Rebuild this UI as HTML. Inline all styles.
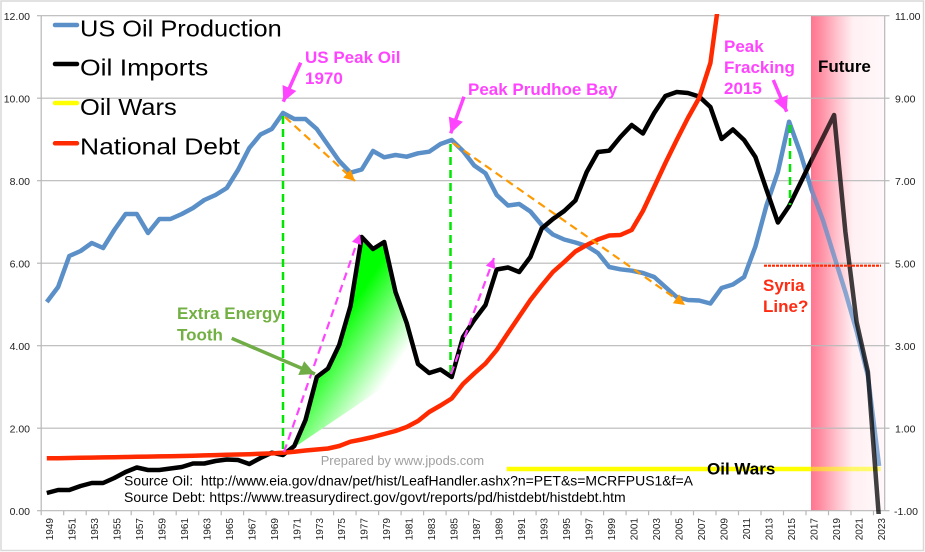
<!DOCTYPE html>
<html><head><meta charset="utf-8"><style>
html,body{margin:0;padding:0;background:#fff;}
svg{display:block;font-family:"Liberation Sans",Arial,sans-serif;}
.ax{font-size:10.5px;fill:#222;}
.yr{font-size:10px;fill:#222;}
.mg{font-size:17px;font-weight:bold;fill:#ff44ff;}
.bd{font-size:17px;font-weight:bold;}
.lg{font-size:23px;fill:#000;}
</style></head><body>
<svg width="925" height="552" viewBox="0 0 925 552" xmlns="http://www.w3.org/2000/svg">
<defs>
<linearGradient id="pk" x1="811" y1="0" x2="884.7" y2="0" gradientUnits="userSpaceOnUse">
<stop offset="0" stop-color="#ff7590"/><stop offset="0.12" stop-color="#ff8ba1"/><stop offset="0.35" stop-color="#ffc2cd"/><stop offset="0.57" stop-color="#fff0f3"/><stop offset="1" stop-color="#fff8fa"/>
</linearGradient>
<linearGradient id="gf" x1="330" y1="280" x2="420" y2="340" gradientUnits="userSpaceOnUse">
<stop offset="0" stop-color="#00ff00"/><stop offset="0.3" stop-color="#00ff00"/><stop offset="0.95" stop-color="#ffffff"/>
</linearGradient>
<clipPath id="past"><rect x="41" y="14" width="770" height="500"/></clipPath>
<clipPath id="fut"><rect x="811" y="14" width="74" height="500"/></clipPath>
<marker id="mOr" viewBox="0 0 10 10" refX="10" refY="5" markerWidth="11" markerHeight="11" markerUnits="userSpaceOnUse" orient="auto"><path d="M0,0L10,5L0,10z" fill="#ff9900"/></marker>
<marker id="mMs" viewBox="0 0 10 10" refX="10" refY="5" markerWidth="11" markerHeight="10" markerUnits="userSpaceOnUse" orient="auto"><path d="M0,0L10,5L0,10z" fill="#ff44ff"/></marker>
<marker id="mMb" viewBox="0 0 10 10" refX="10" refY="5" markerWidth="16" markerHeight="15" markerUnits="userSpaceOnUse" orient="auto"><path d="M0,0L10,5L0,10z" fill="#ff44ff"/></marker>
<marker id="mG" viewBox="0 0 10 10" refX="10" refY="5" markerWidth="17" markerHeight="15" markerUnits="userSpaceOnUse" orient="auto"><path d="M0,0L10,5L0,10z" fill="#70ad47"/></marker>
</defs>

<rect x="0" y="0" width="925" height="552" fill="#fff"/>
<rect x="1" y="1" width="922.5" height="549.5" fill="none" stroke="#d9d9d9" stroke-width="1.5"/>

<!-- future zone -->
<rect x="811" y="15.7" width="73.7" height="495" fill="url(#pk)"/>

<!-- gridlines -->
<g stroke="#b8b8b8" stroke-width="1.2">
<line x1="41.2" y1="15.7" x2="884.7" y2="15.7"/>
<line x1="41.2" y1="98.2" x2="884.7" y2="98.2"/>
<line x1="41.2" y1="180.7" x2="884.7" y2="180.7"/>
<line x1="41.2" y1="263.2" x2="884.7" y2="263.2"/>
<line x1="41.2" y1="345.7" x2="884.7" y2="345.7"/>
<line x1="41.2" y1="428.2" x2="884.7" y2="428.2"/>
<line x1="37" y1="15.7" x2="41.2" y2="15.7"/><line x1="37" y1="98.2" x2="41.2" y2="98.2"/><line x1="37" y1="180.7" x2="41.2" y2="180.7"/><line x1="37" y1="263.2" x2="41.2" y2="263.2"/><line x1="37" y1="345.7" x2="41.2" y2="345.7"/><line x1="37" y1="428.2" x2="41.2" y2="428.2"/><line x1="37" y1="510.7" x2="41.2" y2="510.7"/>
<line x1="884.7" y1="15.7" x2="889.5" y2="15.7"/><line x1="884.7" y1="98.2" x2="889.5" y2="98.2"/><line x1="884.7" y1="180.7" x2="889.5" y2="180.7"/><line x1="884.7" y1="263.2" x2="889.5" y2="263.2"/><line x1="884.7" y1="345.7" x2="889.5" y2="345.7"/><line x1="884.7" y1="428.2" x2="889.5" y2="428.2"/><line x1="884.7" y1="510.7" x2="889.5" y2="510.7"/>
<line x1="41.2" y1="15.7" x2="41.2" y2="510.7"/>
<line x1="884.7" y1="15.7" x2="884.7" y2="510.7"/>
<line x1="41.2" y1="510.7" x2="884.7" y2="510.7"/>
<path d="M41.2,510.7v4.5M63.7,510.7v4.5M86.2,510.7v4.5M108.7,510.7v4.5M131.2,510.7v4.5M153.7,510.7v4.5M176.2,510.7v4.5M198.7,510.7v4.5M221.2,510.7v4.5M243.6,510.7v4.5M266.1,510.7v4.5M288.6,510.7v4.5M311.1,510.7v4.5M333.6,510.7v4.5M356.1,510.7v4.5M378.6,510.7v4.5M401.1,510.7v4.5M423.6,510.7v4.5M446.1,510.7v4.5M468.6,510.7v4.5M491.1,510.7v4.5M513.6,510.7v4.5M536.1,510.7v4.5M558.6,510.7v4.5M581.1,510.7v4.5M603.6,510.7v4.5M626.1,510.7v4.5M648.6,510.7v4.5M671.1,510.7v4.5M693.5,510.7v4.5M716,510.7v4.5M738.5,510.7v4.5M761,510.7v4.5M783.5,510.7v4.5M806,510.7v4.5M828.5,510.7v4.5M851,510.7v4.5M873.5,510.7v4.5" fill="none"/>
</g>

<!-- left axis labels -->
<g class="ax" text-anchor="end">
<text x="30" y="20">12.00</text><text x="30" y="102.5">10.00</text><text x="30" y="185">8.00</text><text x="30" y="267.5">6.00</text><text x="30" y="350">4.00</text><text x="30" y="432.5">2.00</text><text x="30" y="515">0.00</text>
</g>
<!-- right axis labels -->
<g class="ax">
<text x="895" y="20">11.00</text><text x="895" y="102.5">9.00</text><text x="895" y="185">7.00</text><text x="895" y="267.5">5.00</text><text x="895" y="350">3.00</text><text x="895" y="432.5">1.00</text><text x="894" y="515">-1.00</text>
</g>

<!-- year labels -->
<g class="yr" text-anchor="end">
<text transform="translate(52.8,518) rotate(-90)">1949</text>
<text transform="translate(75.3,518) rotate(-90)">1951</text>
<text transform="translate(97.8,518) rotate(-90)">1953</text>
<text transform="translate(120.3,518) rotate(-90)">1955</text>
<text transform="translate(142.8,518) rotate(-90)">1957</text>
<text transform="translate(165.3,518) rotate(-90)">1959</text>
<text transform="translate(187.8,518) rotate(-90)">1961</text>
<text transform="translate(210.3,518) rotate(-90)">1963</text>
<text transform="translate(232.8,518) rotate(-90)">1965</text>
<text transform="translate(255.3,518) rotate(-90)">1967</text>
<text transform="translate(277.8,518) rotate(-90)">1969</text>
<text transform="translate(300.3,518) rotate(-90)">1971</text>
<text transform="translate(322.8,518) rotate(-90)">1973</text>
<text transform="translate(345.2,518) rotate(-90)">1975</text>
<text transform="translate(367.7,518) rotate(-90)">1977</text>
<text transform="translate(390.2,518) rotate(-90)">1979</text>
<text transform="translate(412.7,518) rotate(-90)">1981</text>
<text transform="translate(435.2,518) rotate(-90)">1983</text>
<text transform="translate(457.7,518) rotate(-90)">1985</text>
<text transform="translate(480.2,518) rotate(-90)">1987</text>
<text transform="translate(502.7,518) rotate(-90)">1989</text>
<text transform="translate(525.2,518) rotate(-90)">1991</text>
<text transform="translate(547.7,518) rotate(-90)">1993</text>
<text transform="translate(570.2,518) rotate(-90)">1995</text>
<text transform="translate(592.7,518) rotate(-90)">1997</text>
<text transform="translate(615.2,518) rotate(-90)">1999</text>
<text transform="translate(637.7,518) rotate(-90)">2001</text>
<text transform="translate(660.2,518) rotate(-90)">2003</text>
<text transform="translate(682.6,518) rotate(-90)">2005</text>
<text transform="translate(705.1,518) rotate(-90)">2007</text>
<text transform="translate(727.6,518) rotate(-90)">2009</text>
<text transform="translate(750.1,518) rotate(-90)">2011</text>
<text transform="translate(772.6,518) rotate(-90)">2013</text>
<text transform="translate(795.1,518) rotate(-90)">2015</text>
<text transform="translate(817.6,518) rotate(-90)">2017</text>
<text transform="translate(840.1,518) rotate(-90)">2019</text>
<text transform="translate(862.6,518) rotate(-90)">2021</text>
<text transform="translate(885.1,518) rotate(-90)">2023</text>
</g>

<!-- green tooth fill -->
<polygon points="283,455 294.3,446 305.5,420 316.8,377 328,368.5 339.2,345 350.5,306 361.7,237 373,249 384.2,242 395.5,292 406.7,323 418,364" fill="url(#gf)"/>

<!-- Oil Wars line -->
<line x1="506.7" y1="469" x2="811" y2="469" stroke="#ffff00" stroke-width="4.5"/>
<line x1="811" y1="469" x2="880.7" y2="469" stroke="#ffff00" stroke-width="4.5" opacity="0.55"/>

<!-- US Oil Production (blue) -->
<g fill="none" stroke="#5b8fc8" stroke-width="4.5" stroke-linejoin="round">
<polyline clip-path="url(#past)" points="46.8,302 58.1,287 69.3,256 80.6,251 91.8,243 103.1,248 114.3,230 125.6,214 136.8,214 148,233 159.3,219 170.5,219 181.8,214 193,208 204.3,200 215.5,195 226.8,188 238,170 249.3,148 260.5,134.5 271.8,129 283,113 294.3,119 305.5,119 316.8,129 328,145 339.2,161 350.5,172.7 361.7,169.5 373,151 384.2,157.3 395.5,155 406.7,156.7 418,153.3 429.2,151.7 440.5,144 451.7,140 463,151 474.2,165.5 485.5,173.3 496.7,195 508,205.5 519.2,204 530.4,211.5 541.7,225 552.9,234.5 564.2,239.5 575.4,242.5 586.7,246 597.9,253 609.2,267 620.4,269.3 631.7,270.7 642.9,273 654.2,277 665.4,287 676.7,297 687.9,300 699.1,300.5 710.4,303.5 721.6,288 732.9,284.5 744.1,277 755.4,246.5 766.6,205 777.9,172 789.1,121.7 800.4,153 811.6,190 822.9,220"/>
<polyline clip-path="url(#fut)" opacity="0.72" points="800.4,153 811.6,190 822.9,220 834.1,256 845.4,292 856.6,331 867.9,376 879.1,466"/>
</g>

<!-- Oil Imports (black) -->
<g fill="none" stroke="#000" stroke-width="4.5" stroke-linejoin="round">
<polyline clip-path="url(#past)" points="46.8,493 58.1,490 69.3,490 80.6,486 91.8,483 103.1,483 114.3,478 125.6,472 136.8,467.5 148,470 159.3,470 170.5,468.5 181.8,467 193,463.5 204.3,463.5 215.5,461 226.8,459.5 238,460 249.3,464 260.5,458 271.8,452.7 283,455 294.3,446 305.5,420 316.8,377 328,368.5 339.2,345 350.5,306 361.7,237 373,249 384.2,242 395.5,292 406.7,323 418,364 429.2,373 440.5,369.5 451.7,377 463,337 474.2,320 485.5,305 496.7,269.5 508,267.5 519.2,272 530.4,257 541.7,228.5 552.9,219 564.2,211 575.4,200.5 586.7,172 597.9,152 609.2,150.7 620.4,137 631.7,125 642.9,133.5 654.2,113 665.4,96 676.7,92 687.9,93 699.1,96.5 710.4,107 721.6,139 732.9,129.5 744.1,140 755.4,157 766.6,190 777.9,222.5 789.1,206 800.4,183 811.6,160 822.9,137.5"/>
<polyline clip-path="url(#fut)" opacity="0.75" points="800.4,183 811.6,160 822.9,137.5 834.1,115 845.4,232 856.6,322 867.9,372 879.1,520"/>
</g>

<!-- National Debt (red) -->
<polyline clip-path="url(#past)" fill="none" stroke="#ff2a00" stroke-width="4.5" stroke-linejoin="round" points="46.8,458.3 58.1,458.2 69.3,458 80.6,457.8 91.8,457.6 103.1,457.4 114.3,457.2 125.6,457 136.8,456.8 148,456.6 159.3,456.4 170.5,456.2 181.8,456 193,455.7 204.3,455.4 215.5,455.1 226.8,454.8 238,454.5 249.3,454.2 260.5,453.8 271.8,453.4 283,452.7 294.3,451.7 305.5,450.5 316.8,449.5 328,448.5 339.2,446 350.5,441.7 361.7,439.5 373,437 384.2,434 395.5,431 406.7,427 418,421 429.2,412 440.5,405.5 451.7,398.5 463,384 474.2,373.5 485.5,363.5 496.7,350 508,333 519.2,316.5 530.4,300 541.7,285.5 552.9,272 564.2,262 575.4,251.5 586.7,245 597.9,239.5 609.2,235.5 620.4,235 631.7,230 642.9,211 654.2,187 665.4,163 676.7,140 687.9,118 699.1,98 710.4,63 721.6,-20"/>

<!-- Syria line -->
<line x1="764" y1="265.7" x2="881" y2="265.7" stroke="#ff2a00" stroke-width="2.2" stroke-dasharray="3 1"/>

<!-- green vertical dashed -->
<g stroke="#00e600" stroke-width="2.5" stroke-dasharray="8 5" fill="none">
<line x1="283" y1="116" x2="283" y2="453"/>
<line x1="450.5" y1="144" x2="450.5" y2="375"/>
<line x1="790" y1="125" x2="790" y2="205"/>
</g>

<!-- orange dashed arrows -->
<g stroke="#ff9900" stroke-width="2.2" stroke-dasharray="8 5" fill="none">
<line x1="285" y1="117" x2="355" y2="181" marker-end="url(#mOr)"/>
<line x1="453" y1="143" x2="685" y2="305" marker-end="url(#mOr)"/>
</g>

<!-- magenta dashed arrows -->
<g stroke="#ff44ff" stroke-width="2.2" stroke-dasharray="8 5" fill="none">
<line x1="284" y1="452" x2="360" y2="234" marker-end="url(#mMs)"/>
<line x1="451" y1="374" x2="494" y2="258" marker-end="url(#mMs)"/>
</g>

<!-- magenta solid arrows -->
<g stroke="#ff44ff" stroke-width="3.5" fill="none">
<line x1="300.7" y1="62.7" x2="283.3" y2="101.7" marker-end="url(#mMb)"/>
<line x1="464" y1="96.7" x2="450.7" y2="133.3" marker-end="url(#mMb)"/>
<line x1="773.3" y1="80" x2="786.7" y2="111.7" marker-end="url(#mMb)"/>
</g>

<!-- green arrow -->
<line x1="231.7" y1="338.3" x2="315" y2="374" stroke="#70ad47" stroke-width="3.5" marker-end="url(#mG)"/>

<!-- annotations -->
<text class="mg" x="305" y="63">US Peak Oil</text>
<text class="mg" x="305" y="84">1970</text>
<text class="mg" x="468" y="95">Peak Prudhoe Bay</text>
<text class="mg" x="724" y="52">Peak</text>
<text class="mg" x="724" y="73">Fracking</text>
<text class="mg" x="724" y="94">2015</text>
<text class="bd" x="818" y="72" fill="#000">Future</text>
<text class="bd" x="763" y="291" fill="#ff2b12">Syria</text>
<text class="bd" x="763" y="312" fill="#ff2b12">Line?</text>
<text class="bd" x="707" y="474.5" fill="#000">Oil Wars</text>
<text class="bd" x="177" y="319" fill="#72b043">Extra Energy</text>
<text class="bd" x="177" y="340.5" fill="#72b043">Tooth</text>

<text x="320.7" y="465" font-size="13" fill="#a0a0a0" textLength="163.5" lengthAdjust="spacingAndGlyphs">Prepared by www.jpods.com</text>
<text x="124" y="485.5" font-size="14" fill="#000" textLength="569" lengthAdjust="spacingAndGlyphs" xml:space="preserve">Source Oil:  http://www.eia.gov/dnav/pet/hist/LeafHandler.ashx?n=PET&amp;s=MCRFPUS1&amp;f=A</text>
<text x="124" y="502" font-size="14" fill="#000" textLength="501.7" lengthAdjust="spacingAndGlyphs">Source Debt: https://www.treasurydirect.gov/govt/reports/pd/histdebt/histdebt.htm</text>

<!-- legend -->
<g stroke-width="4.5" stroke-linecap="round">
<line x1="55" y1="25" x2="77" y2="25" stroke="#5b8fc8"/>
<line x1="55" y1="64" x2="77" y2="64" stroke="#000"/>
<line x1="55" y1="103" x2="77" y2="103" stroke="#ffff00"/>
<line x1="55" y1="143.3" x2="77" y2="143.3" stroke="#ff2a00"/>
</g>
<text class="lg" x="80" y="36.7" textLength="201.7" lengthAdjust="spacingAndGlyphs">US Oil Production</text>
<text class="lg" x="80" y="75.5" textLength="128.3" lengthAdjust="spacingAndGlyphs">Oil Imports</text>
<text class="lg" x="80" y="115" textLength="96.7" lengthAdjust="spacingAndGlyphs">Oil Wars</text>
<text class="lg" x="80" y="154.5" textLength="160" lengthAdjust="spacingAndGlyphs">National Debt</text>
</svg>
</body></html>
